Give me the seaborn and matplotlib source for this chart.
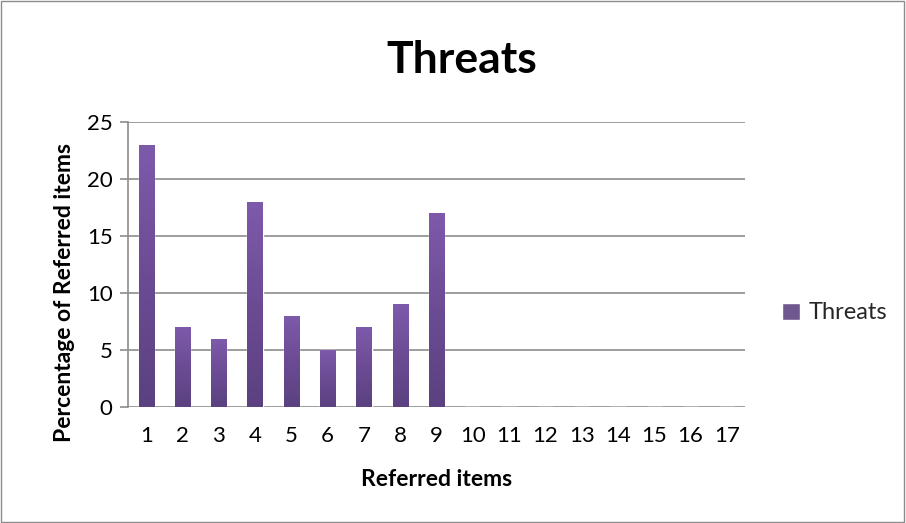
import numpy as np
import pandas as pd
import seaborn as sns
import matplotlib.pyplot as plt
from matplotlib.colors import LinearSegmentedColormap

# data
items = [str(i) for i in range(1, 18)]
threats = [23, 7, 6, 18, 8, 5, 7, 9, 17, 0, 0, 0, 0, 0, 0, 0, 0]

df = pd.DataFrame({'Referred items': items, 'Threats': threats})

sns.set_style('white')
plt.rcParams['font.family'] = ['Lato', 'DejaVu Sans']

fig = plt.figure(figsize=(9.06, 5.23), dpi=100)
ax = fig.add_axes([0.1413, 0.2218, 0.681, 0.545])

sns.barplot(data=df, x='Referred items', y='Threats', color='#6E4F97',
            width=0.42, ax=ax, label='Threats')

# gradient fill on each bar, lighter on top
cmap = LinearSegmentedColormap.from_list('purp', ['#5B4180', '#6B4C94', '#7E5AAB'])
grad = np.linspace(0, 1, 256).reshape(-1, 1)
for bar in ax.patches:
    h = bar.get_height()
    if h <= 0:
        continue
    x0 = bar.get_x()
    w = bar.get_width()
    im = ax.imshow(grad, cmap=cmap, aspect='auto', origin='lower',
                   extent=[x0, x0 + w, 0, h], zorder=bar.get_zorder() + 0.1)
    im.set_clip_path(bar)

ax.set_xlim(-0.5, 16.5)
ax.set_ylim(0, 25)
ax.set_yticks([0, 5, 10, 15, 20, 25])
ax.yaxis.grid(True, color='#8C8C8C', linewidth=1.2)
ax.set_axisbelow(True)
for s in ['top', 'right', 'bottom']:
    ax.spines[s].set_visible(False)
ax.spines['left'].set_color('#8C8C8C')
ax.spines['left'].set_linewidth(1.2)
ax.tick_params(axis='y', length=6, color='#8C8C8C', width=1.2, labelsize=16,
               pad=5, left=True, labelcolor='black')
ax.tick_params(axis='x', length=0, labelsize=16, pad=14, labelcolor='black')

ax.set_xlabel('Referred items', fontsize=16.5, fontweight='bold', labelpad=16, color='black')
ax.set_ylabel('Percentage of Referred items', fontsize=16.5, fontweight='bold',
              color='black')
ax.yaxis.set_label_coords(-0.086, 0.40)
fig.text(0.51, 0.885, 'Threats', ha='center', va='center', fontsize=32,
         fontweight='bold', color='black')

ax.legend(loc='center left', bbox_to_anchor=(1.045, 0.33), frameon=False,
          fontsize=17, handlelength=0.75, handleheight=0.75, handletextpad=0.35,
          borderaxespad=0)

# outer chart border
fig.patches.append(plt.Rectangle((0.001, 0.002), 0.997, 0.996, transform=fig.transFigure,
                                 fill=False, edgecolor='#8C8C8C', linewidth=1))

fig.savefig('out.png', dpi=100)
